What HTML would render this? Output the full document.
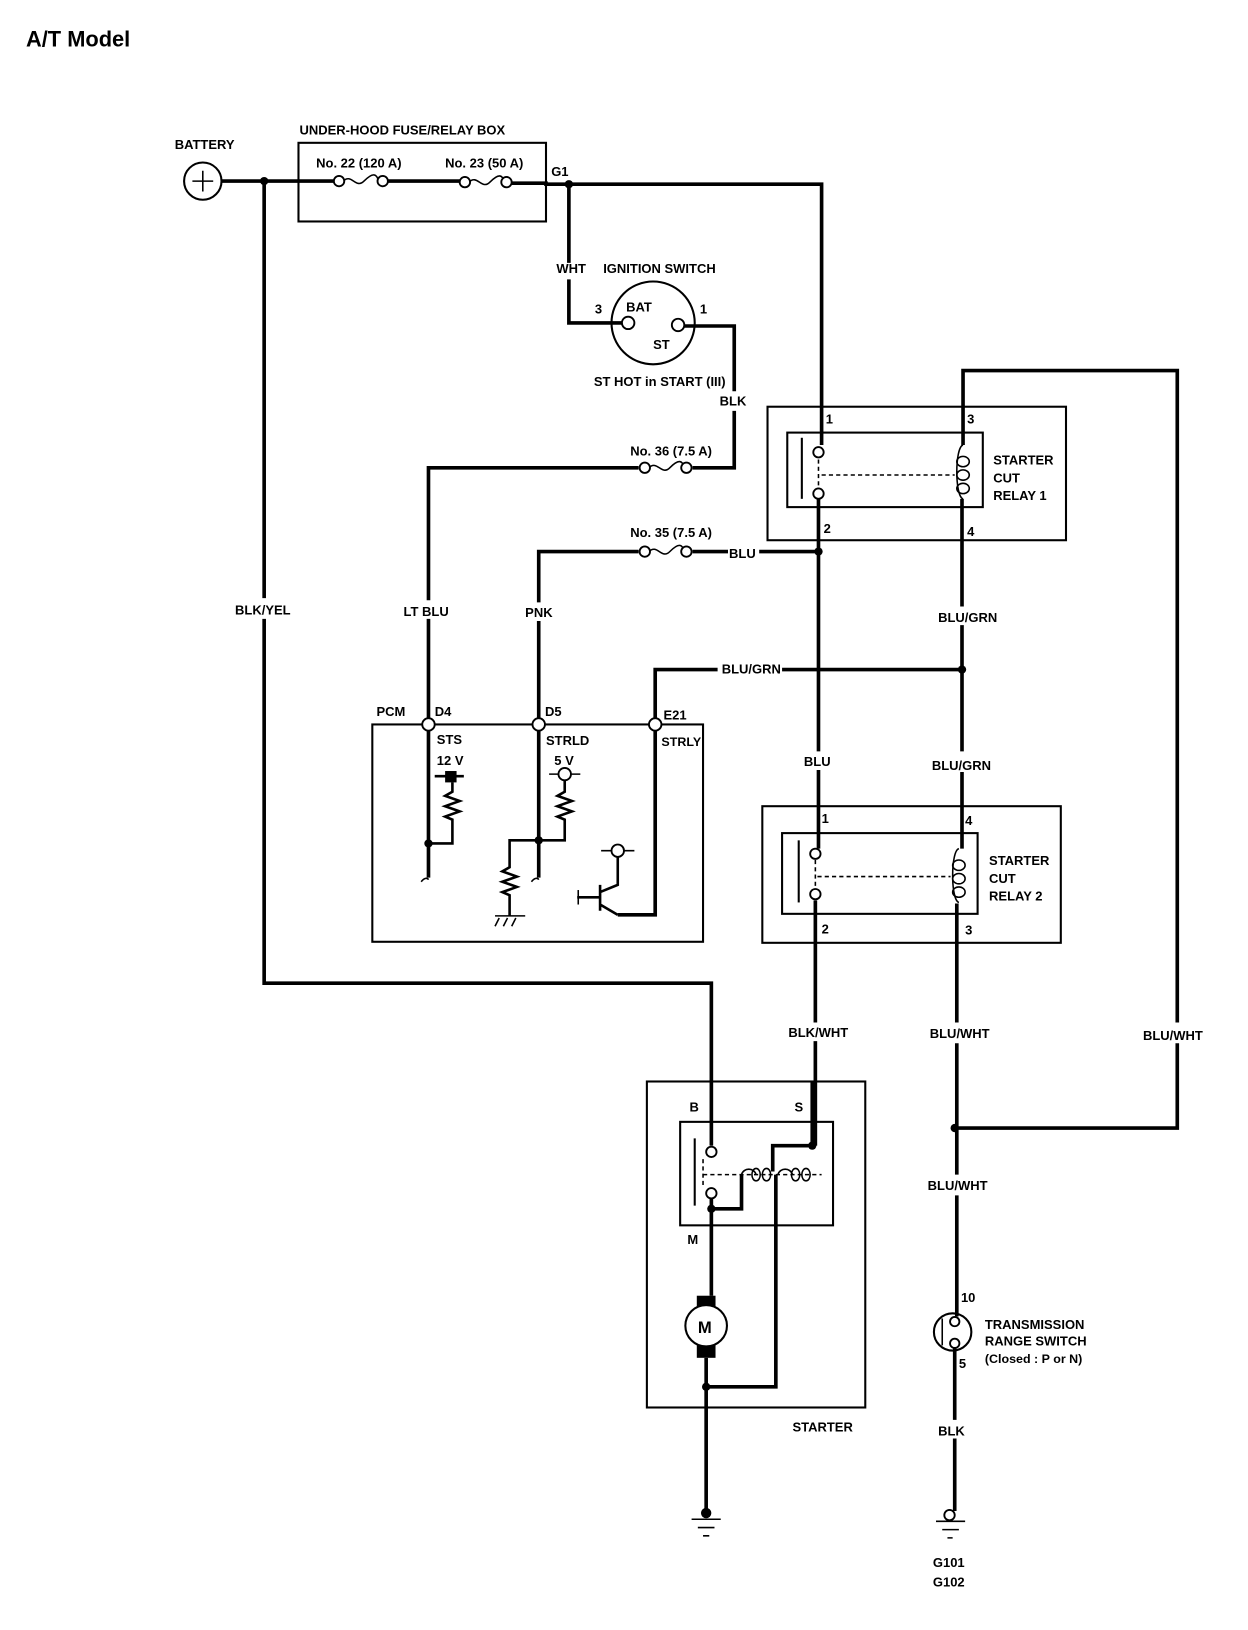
<!DOCTYPE html>
<html><head><meta charset="utf-8"><style>
html,body{margin:0;padding:0;background:#fff;}
svg{display:block}
text{font-family:"Liberation Sans",sans-serif;font-weight:bold;font-size:12.5px;fill:#000;}
.w{stroke:#000;stroke-width:3.5;fill:none;}
.b{stroke:#000;stroke-width:2;fill:none;}
.t{stroke:#000;stroke-width:1.5;fill:none;}
.o{stroke:#000;stroke-width:1.8;fill:#fff;}
</style></head><body>
<svg width="1248" height="1630" viewBox="0 0 1200 1575" preserveAspectRatio="none" xmlns="http://www.w3.org/2000/svg">
<text x="25" y="45" style="font-size:21px">A/T Model</text>

<text x="168" y="144">BATTERY</text>
<circle cx="195" cy="175" r="18" class="b"/>
<path d="M185 175H205M195 165V185" class="t"/>
<text x="288" y="130">UNDER-HOOD FUSE/RELAY BOX</text>
<rect x="287" y="138" width="238" height="76" class="b"/>
<text x="304" y="162">No. 22 (120 A)</text>
<text x="428" y="162">No. 23 (50 A)</text>
<text x="530" y="170">G1</text>
<path d="M213 175H322M372 175H443M491 177H525V178H790V430" class="w"/>
<path d="M330 175c8 -8 12 8 20 0s12 -8 14 0" class="t"/>
<circle cx="326" cy="175" r="5" class="o"/><circle cx="368" cy="175" r="5" class="o"/>
<path d="M451 176c8 -8 12 8 20 0s12 -8 14 0" class="t"/>
<circle cx="447" cy="176" r="5" class="o"/><circle cx="487" cy="176" r="5" class="o"/>
<circle cx="254" cy="175" r="4"/><circle cx="547" cy="178" r="4"/>

<path d="M254 175V578M254 598V950H684V1107" class="w"/>
<text x="226" y="594">BLK/YEL</text>

<path d="M547 178V254M547 270V312H598" class="w"/>
<text x="535" y="264">WHT</text>
<text x="580" y="264">IGNITION SWITCH</text>
<circle cx="628" cy="312" r="40" class="b"/>
<circle cx="604" cy="312" r="6" class="o"/><circle cx="652" cy="314" r="6" class="o"/>
<text x="572" y="303">3</text><text x="673" y="303">1</text>
<text x="602" y="301">BAT</text><text x="628" y="337">ST</text>
<text x="571" y="373">ST HOT in START (III)</text>
<path d="M658 315H706V378M706 397V452H666M614 452H412V580M412 598V694" class="w"/>
<text x="692" y="392">BLK</text>
<path d="M624 452c8 -8 12 8 20 0s12 -8 14 0" class="t"/>
<circle cx="620" cy="452" r="5" class="o"/><circle cx="660" cy="452" r="5" class="o"/>
<text x="606" y="440">No. 36 (7.5 A)</text>
<text x="388" y="595">LT BLU</text>

<path d="M518 694V600M518 582V533H614M666 533H700M730 533H787" class="w"/>
<path d="M624 533c8 -8 12 8 20 0s12 -8 14 0" class="t"/>
<circle cx="620" cy="533" r="5" class="o"/><circle cx="660" cy="533" r="5" class="o"/>
<text x="606" y="519">No. 35 (7.5 A)</text>
<text x="701" y="539">BLU</text>
<text x="505" y="596">PNK</text>

<rect x="738" y="393" width="287" height="129" class="b"/>
<rect x="757" y="418" width="188" height="72" class="b"/>
<text x="794" y="409">1</text><text x="930" y="409">3</text>
<text x="792" y="515">2</text><text x="930" y="518">4</text>
<text x="955" y="449">STARTER</text><text x="955" y="466">CUT</text><text x="955" y="483">RELAY 1</text>
<path d="M771 423V482" class="b"/>
<path d="M787 444V472M790 459H918" class="t" stroke-dasharray="4,3"/>
<circle cx="787" cy="437" r="5" class="o"/><circle cx="787" cy="477" r="5" class="o"/>
<path d="M787 482V726M787 744V820" class="w"/>
<circle cx="787" cy="533" r="4"/>
<path d="M926 430c-8 2 -8 50 0 52" class="t"/>
<ellipse cx="926" cy="446" rx="6" ry="5" class="t"/><ellipse cx="926" cy="459" rx="6" ry="5" class="t"/><ellipse cx="926" cy="472" rx="6" ry="5" class="t"/>
<path d="M926 430V358H1132V988M1132 1008V1090H918" class="w"/>
<path d="M925 482V586M925 604V726M925 746V820" class="w"/>
<text x="902" y="601">BLU/GRN</text>
<text x="896" y="744">BLU/GRN</text>
<text x="773" y="740">BLU</text>
<path d="M630 694V647H690M752 647H925" class="w"/>
<circle cx="925" cy="647" r="4"/>
<text x="694" y="651">BLU/GRN</text>

<rect x="358" y="700" width="318" height="210" class="b"/>
<circle cx="412" cy="700" r="6" class="o"/><circle cx="518" cy="700" r="6" class="o"/><circle cx="630" cy="700" r="6" class="o"/>
<text x="362" y="692">PCM</text><text x="418" y="692">D4</text><text x="524" y="692">D5</text><text x="638" y="695">E21</text>
<text x="420" y="719">STS</text><text x="525" y="720">STRLD</text><text x="636" y="721" style="font-size:12px">STRLY</text>
<text x="420" y="739">12 V</text><text x="533" y="739">5 V</text>
<path d="M412 706V848M518 706V848M630 706V884H594" class="w"/>
<path d="M405 852c3-4 6-4 7-2M511 852c3-4 6-4 7-2" class="t"/>
<rect x="428" y="745" width="11" height="11"/>
<path d="M418 750H446M435 756V765l-7 4 14 5 -14 5 14 5 -14 5 7 3V815H412" class="w" style="stroke-width:2.5"/>
<circle cx="412" cy="815" r="4"/>
<path d="M528 748H558" class="t"/><circle cx="543" cy="748" r="6" class="o"/>
<path d="M543 754V765l-7 4 14 5 -14 5 14 5 -14 5 7 3V812H490V838l-7 4 14 5 -14 5 14 5 -14 5 7 3V885" class="w" style="stroke-width:2.5"/>
<circle cx="518" cy="812" r="4"/>
<path d="M476 885H505M480 887l-4 8M488 887l-4 8M496 887l-4 8" class="t"/>
<path d="M578 822H610" class="t"/><circle cx="594" cy="822" r="6" class="o"/>
<path d="M594 828V855L577 862M577 874L594 884M555 867H577M577 855V880" class="w" style="stroke-width:2.5"/>
<path d="M556 860V874" class="t"/>

<rect x="733" y="779" width="287" height="132" class="b"/>
<rect x="752" y="805" width="188" height="78" class="b"/>
<text x="790" y="795">1</text><text x="928" y="797">4</text>
<text x="790" y="902">2</text><text x="928" y="903">3</text>
<text x="951" y="836">STARTER</text><text x="951" y="853">CUT</text><text x="951" y="870">RELAY 2</text>
<path d="M768 812V872" class="b"/>
<path d="M784 831V858M786 847H914" class="t" stroke-dasharray="4,3"/>
<circle cx="784" cy="825" r="5" class="o"/><circle cx="784" cy="864" r="5" class="o"/>
<path d="M922 820c-8 2 -8 50 0 52" class="t"/>
<ellipse cx="922" cy="836" rx="6" ry="5" class="t"/><ellipse cx="922" cy="849" rx="6" ry="5" class="t"/><ellipse cx="922" cy="862" rx="6" ry="5" class="t"/>
<path d="M784 870V988M784 1006V1107" class="w"/>
<text x="758" y="1002">BLK/WHT</text>
<path d="M920 873V988M920 1008V1135M920 1155V1272M918 1302V1372M918 1390V1460" class="w"/>
<circle cx="918" cy="1090" r="4"/>
<text x="894" y="1003">BLU/WHT</text>
<text x="1099" y="1005">BLU/WHT</text>
<text x="892" y="1150">BLU/WHT</text>

<circle cx="916" cy="1287" r="18" class="b"/>
<path d="M906 1274V1300" class="t"/>
<circle cx="918" cy="1277" r="4.5" class="o"/><circle cx="918" cy="1298" r="4.5" class="o"/>
<text x="924" y="1258">10</text><text x="922" y="1322">5</text>
<text x="947" y="1284">TRANSMISSION</text><text x="947" y="1300">RANGE SWITCH</text><text x="947" y="1317" style="font-size:12px">(Closed : P or N)</text>
<text x="902" y="1387">BLK</text>
<circle cx="913" cy="1464" r="5" class="o"/>
<path d="M900 1470H928M906 1478H922M911 1486H916" class="t"/>
<text x="897" y="1514">G101</text><text x="897" y="1533">G102</text>

<rect x="622" y="1045" width="210" height="315" class="b"/>
<rect x="654" y="1084" width="147" height="100" class="b"/>
<text x="663" y="1074">B</text><text x="764" y="1074">S</text><text x="661" y="1202">M</text>
<text x="762" y="1383">STARTER</text>
<path d="M668 1100V1165" class="b"/>
<path d="M676 1120V1146M676 1135H790" class="t" stroke-dasharray="4,3"/>
<circle cx="684" cy="1113" r="5" class="o"/><circle cx="684" cy="1153" r="5" class="o"/>
<path d="M781 1045V1107H743V1132M684 1158V1168H713V1135M684 1168V1252M679 1312V1462M679 1340H746V1135" class="w"/>
<circle cx="781" cy="1107" r="4"/><circle cx="684" cy="1168" r="4"/><circle cx="679" cy="1340" r="4"/>
<path d="M713 1135c2-7 12-7 14 0M748 1135c2-7 12-7 14 0" class="t"/>
<ellipse cx="727" cy="1135" rx="4" ry="6" class="t"/><ellipse cx="737" cy="1135" rx="4" ry="6" class="t"/>
<ellipse cx="765" cy="1135" rx="4" ry="6" class="t"/><ellipse cx="775" cy="1135" rx="4" ry="6" class="t"/>
<rect x="670" y="1252" width="18" height="12"/><rect x="670" y="1298" width="18" height="14"/>
<circle cx="679" cy="1281" r="20" class="o" style="stroke-width:2"/>
<text x="671" y="1288" style="font-size:16px">M</text>
<circle cx="679" cy="1462" r="5"/>
<path d="M665 1468H693M671 1476H687M676 1484H682" class="t"/>
</svg>
</body></html>
